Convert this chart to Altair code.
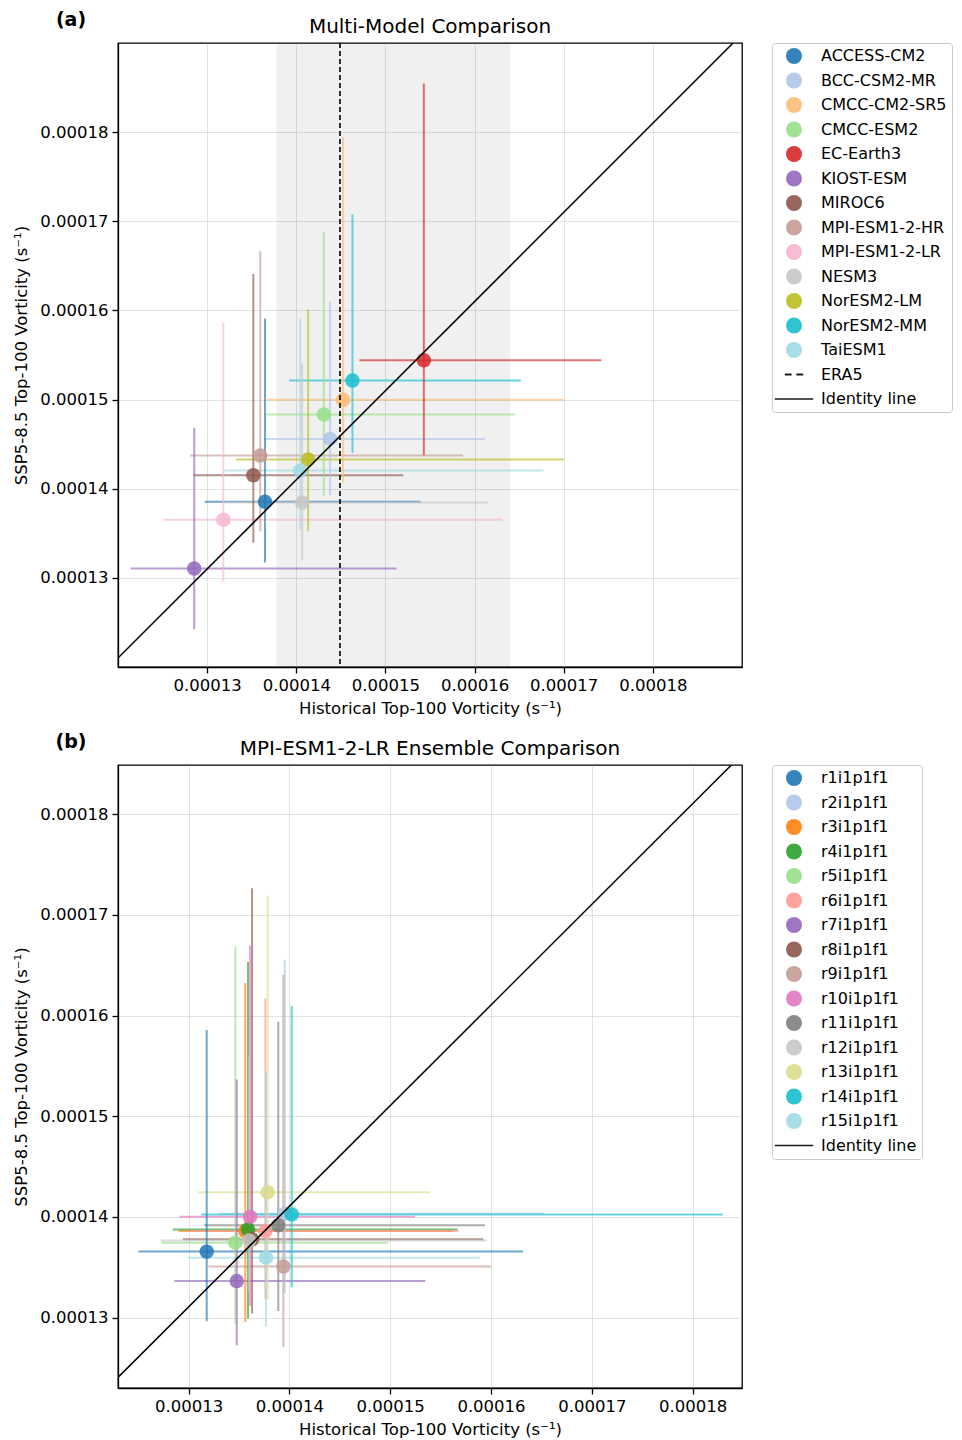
import altair as alt
import pandas as pd

# ---------------- Panel (a): multi-model comparison ----------------
models_a = ["ACCESS-CM2", "BCC-CSM2-MR", "CMCC-CM2-SR5", "CMCC-ESM2", "EC-Earth3",
            "KIOST-ESM", "MIROC6", "MPI-ESM1-2-HR", "MPI-ESM1-2-LR", "NESM3",
            "NorESM2-LM", "NorESM2-MM", "TaiESM1"]
colors_a = ["#1f77b4", "#aec7e8", "#ffbb78", "#98df8a", "#d62728", "#9467bd", "#8c564b",
            "#c49c94", "#f7b6d2", "#c7c7c7", "#bcbd22", "#17becf", "#9edae5"]
hist_a = [13.649e-5, 14.379e-5, 14.525e-5, 14.309e-5, 15.431e-5, 12.855e-5, 13.518e-5,
          13.596e-5, 13.182e-5, 14.066e-5, 14.133e-5, 14.630e-5, 14.044e-5]
ssp_a = [13.853e-5, 14.559e-5, 14.997e-5, 14.832e-5, 15.441e-5, 13.104e-5, 14.151e-5,
         14.372e-5, 13.651e-5, 13.845e-5, 14.327e-5, 15.213e-5, 14.204e-5]
hist_lo_a = [12.974e-5, 13.641e-5, 13.668e-5, 13.641e-5, 14.708e-5, 12.142e-5, 12.847e-5,
             12.810e-5, 12.511e-5, 13.200e-5, 13.324e-5, 13.921e-5, 13.194e-5]
hist_hi_a = [15.394e-5, 16.113e-5, 17.001e-5, 16.453e-5, 17.422e-5, 15.125e-5, 15.200e-5,
             15.871e-5, 16.314e-5, 16.151e-5, 17.001e-5, 16.520e-5, 16.773e-5]
ssp_lo_a = [13.172e-5, 13.927e-5, 14.069e-5, 13.920e-5, 14.375e-5, 12.423e-5, 13.393e-5,
            13.523e-5, 12.962e-5, 13.197e-5, 13.523e-5, 14.402e-5, 13.542e-5]
ssp_hi_a = [15.909e-5, 16.096e-5, 17.943e-5, 16.882e-5, 18.545e-5, 14.683e-5, 16.410e-5,
            16.668e-5, 15.861e-5, 15.404e-5, 16.010e-5, 17.079e-5, 15.909e-5]
era5_value = [14.49e-5]
era5_range_lo = [13.78e-5]
era5_range_hi = [16.40e-5]
identity_a_x = [12.0e-5, 18.9e-5]
identity_a_y = [12.1e-5, 19.0e-5]
domain_a = [12.0e-5, 19.0e-5]

# ---------------- Panel (b): MPI-ESM1-2-LR ensemble ----------------
members_b = ["r1i1p1f1", "r2i1p1f1", "r3i1p1f1", "r4i1p1f1", "r5i1p1f1", "r6i1p1f1",
             "r7i1p1f1", "r8i1p1f1", "r9i1p1f1", "r10i1p1f1", "r11i1p1f1", "r12i1p1f1",
             "r13i1p1f1", "r14i1p1f1", "r15i1p1f1"]
colors_b = ["#1f77b4", "#aec7e8", "#ff7f0e", "#2ca02c", "#98df8a", "#ff9896", "#9467bd",
            "#8c564b", "#c49c94", "#e377c2", "#7f7f7f", "#c7c7c7", "#dbdb8d", "#17becf",
            "#9edae5"]
hist_b = [13.180e-5, 13.955e-5, 13.563e-5, 13.590e-5, 13.464e-5, 13.762e-5, 13.478e-5,
          13.630e-5, 13.940e-5, 13.610e-5, 13.890e-5, 13.600e-5, 13.785e-5, 14.023e-5,
          13.768e-5]
ssp_b = [13.655e-5, 14.032e-5, 13.859e-5, 13.876e-5, 13.744e-5, 13.859e-5, 13.363e-5,
         13.777e-5, 13.506e-5, 14.002e-5, 13.916e-5, 13.765e-5, 14.246e-5, 14.025e-5,
         13.595e-5]
hist_lo_b = [12.502e-5, 13.300e-5, 12.900e-5, 12.843e-5, 12.727e-5, 13.000e-5, 12.859e-5,
             12.942e-5, 13.196e-5, 12.909e-5, 13.154e-5, 12.720e-5, 13.097e-5, 13.124e-5,
             12.992e-5]
hist_hi_b = [16.317e-5, 16.528e-5, 15.620e-5, 15.669e-5, 14.978e-5, 15.679e-5, 15.348e-5,
             15.923e-5, 16.003e-5, 15.246e-5, 15.940e-5, 15.957e-5, 15.395e-5, 18.300e-5,
             15.890e-5]
ssp_lo_b = [12.963e-5, 13.241e-5, 12.956e-5, 12.990e-5, 12.934e-5, 13.182e-5, 12.725e-5,
            13.040e-5, 12.708e-5, 13.115e-5, 13.065e-5, 13.250e-5, 13.180e-5, 13.298e-5,
            12.911e-5]
ssp_hi_b = [15.857e-5, 16.555e-5, 16.323e-5, 16.532e-5, 16.684e-5, 16.171e-5, 15.364e-5,
            17.266e-5, 16.406e-5, 16.696e-5, 15.939e-5, 15.600e-5, 17.190e-5, 16.098e-5,
            15.450e-5]
identity_b_x = [12.30e-5, 18.385e-5]
identity_b_y = [12.405e-5, 18.49e-5]
domain_b = [12.30e-5, 18.49e-5]

tick_values = [13e-5, 14e-5, 15e-5, 16e-5, 17e-5, 18e-5]

X_TITLE = "Historical Top-100 Vorticity (s\u207b\u00b9)"
Y_TITLE = "SSP5-8.5 Top-100 Vorticity (s\u207b\u00b9)"

DASH_SHAPE = ("M-1.15,-0.14L-0.3,-0.14L-0.3,0.14L-1.15,0.14Z "
              "M0.3,-0.14L1.15,-0.14L1.15,0.14L0.3,0.14Z")
LINE_SHAPE = "M-2.4,-0.09L2.4,-0.09L2.4,0.09L-2.4,0.09Z"

PLOT_W = 624


def make_panel(names, colors, hist, ssp, hlo, hhi, slo, shi, dom, idx, idy,
               title, tag, extra_names, extra_shapes, height, era5=None):
    df = pd.DataFrame({"name": names, "hist": hist, "ssp": ssp,
                       "hlo": hlo, "hhi": hhi, "slo": slo, "shi": shi})
    legend_domain = names + extra_names
    cscale = alt.Scale(domain=legend_domain, range=colors + ["black"] * len(extra_names))
    bscale = alt.Scale(domain=names, range=colors)
    sscale = alt.Scale(domain=legend_domain, range=["circle"] * len(names) + extra_shapes)
    xs = alt.Scale(domain=dom, nice=False, zero=False)
    ys = alt.Scale(domain=dom, nice=False, zero=False)
    xax = alt.Axis(values=tick_values, format=".5f", title=X_TITLE)
    yax = alt.Axis(values=tick_values, format=".5f", title=Y_TITLE)
    leg = alt.Legend(title=None)

    base = alt.Chart(df)
    layers = []
    if era5 is not None:
        edf = pd.DataFrame({"v": era5[0], "lo": era5[1], "hi": era5[2]})
        band = alt.Chart(edf).mark_rect(color="black", opacity=0.06).encode(
            x=alt.X("lo:Q", scale=xs, axis=xax), x2="hi:Q")
        layers.append(band)
    hbar = base.mark_rule(strokeWidth=2, opacity=0.65, clip=True).encode(
        x=alt.X("hlo:Q", scale=xs, axis=xax), x2="hhi:Q",
        y=alt.Y("ssp:Q", scale=ys, axis=yax),
        stroke=alt.Stroke("name:N", scale=bscale, legend=None))
    vbar = base.mark_rule(strokeWidth=2, opacity=0.65, clip=True).encode(
        x=alt.X("hist:Q", scale=xs, axis=xax),
        y=alt.Y("slo:Q", scale=ys, axis=yax), y2="shi:Q",
        stroke=alt.Stroke("name:N", scale=bscale, legend=None))
    pts = base.mark_point(filled=True, size=210, opacity=0.85, clip=True).encode(
        x=alt.X("hist:Q", scale=xs, axis=xax),
        y=alt.Y("ssp:Q", scale=ys, axis=yax),
        color=alt.Color("name:N", scale=cscale, legend=leg),
        shape=alt.Shape("name:N", scale=sscale, legend=leg))
    ident = alt.Chart(pd.DataFrame({"x": idx, "y": idy})).mark_line(
        color="black", strokeWidth=1.5, clip=True).encode(
        x=alt.X("x:Q", scale=xs, axis=xax), y=alt.Y("y:Q", scale=ys, axis=yax))
    layers += [hbar, vbar, pts, ident]
    if era5 is not None:
        erule = alt.Chart(edf).mark_rule(color="black", strokeWidth=1.6,
                                         strokeDash=[5, 3]).encode(
            x=alt.X("v:Q", scale=xs, axis=xax))
        layers.append(erule)
    tag_mark = alt.Chart(pd.DataFrame({"t": [tag]})).mark_text(
        fontSize=19, fontWeight="bold", align="center", baseline="middle",
        color="black").encode(text="t:N", x=alt.value(-47), y=alt.value(-23))
    title_mark = alt.Chart(pd.DataFrame({"t": [title]})).mark_text(
        fontSize=20, align="center", baseline="middle",
        color="black").encode(text="t:N", x=alt.value(PLOT_W / 2), y=alt.value(-16))
    layers += [tag_mark, title_mark]
    return alt.layer(*layers).properties(width=PLOT_W, height=height)


panel_a = make_panel(models_a, colors_a, hist_a, ssp_a, hist_lo_a, hist_hi_a,
                     ssp_lo_a, ssp_hi_a, domain_a, identity_a_x, identity_a_y,
                     "Multi-Model Comparison", "(a)", ["ERA5", "Identity line"],
                     [DASH_SHAPE, LINE_SHAPE], 624,
                     era5=(era5_value, era5_range_lo, era5_range_hi))
panel_b = make_panel(members_b, colors_b, hist_b, ssp_b, hist_lo_b, hist_hi_b,
                     ssp_lo_b, ssp_hi_b, domain_b, identity_b_x, identity_b_y,
                     "MPI-ESM1-2-LR Ensemble Comparison", "(b)", ["Identity line"],
                     [LINE_SHAPE], 623)

chart = alt.vconcat(panel_a, panel_b, spacing=14).resolve_scale(
    color="independent", shape="independent", stroke="independent",
    x="independent", y="independent"
).resolve_legend(color="independent", shape="independent").properties(
    padding={"left": 5, "top": 2, "right": 0, "bottom": 0}
).configure(font="DejaVu Sans").configure_view(
    stroke="black", strokeWidth=1.3
).configure_axis(
    labelFontSize=16.5, titleFontSize=16.5, titleFontWeight="normal",
    labelColor="black", titleColor="black", tickColor="black", domainColor="black",
    tickSize=6, tickWidth=1.3, domainWidth=1.3, labelPadding=4,
    gridColor="#b0b0b0", gridOpacity=0.35, gridWidth=1
).configure_axisY(titlePadding=10).configure_axisX(titlePadding=7).configure_legend(
    labelFontSize=16, labelColor="black", padding=5, strokeColor="#cccccc",
    cornerRadius=3, fillColor="white", offset=30, rowPadding=8.5, symbolSize=256,
    symbolOffset=9, labelOffset=19, labelLimit=400, symbolStrokeWidth=0,
    symbolOpacity=0.9
)

chart.save("out.html", embed_options={"renderer": "svg", "actions": False})
